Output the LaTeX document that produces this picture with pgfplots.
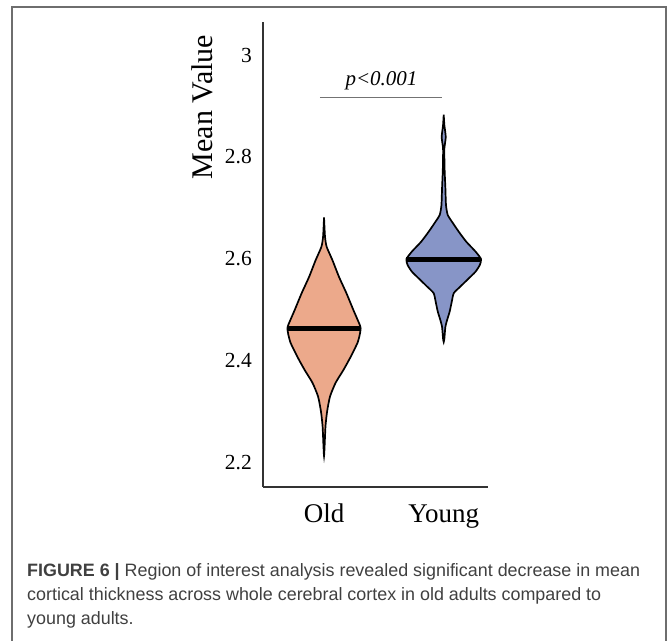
\documentclass[border=0pt]{standalone}
\usepackage{fontspec}
\setmainfont{Liberation Serif}
\newfontfamily\capfont{Liberation Sans}
\usepackage{pgfplots}
\pgfplotsset{compat=1.18}
\definecolor{oldc}{RGB}{236,169,139}
\definecolor{youngc}{RGB}{135,149,199}
\definecolor{framec}{RGB}{110,110,110}
\definecolor{capc}{RGB}{64,64,64}
\begin{document}
\begin{tikzpicture}
\useasboundingbox (0,0) rectangle (667bp,641bp);
\draw[framec, line width=1.4bp] (12bp,0) -- (12bp,634bp) -- (666bp,634bp) -- (666bp,0);
\begin{axis}[
  at={(263bp,154bp)}, anchor=south west,
  scale only axis, width=225bp, height=465bp,
  xmin=-0.51, xmax=1.37, ymin=2.151, ymax=3.065,
  axis x line*=bottom, axis y line*=left,
  axis line style={black!80, line width=1.5bp},
  xtick={0,1}, xticklabels={Old,Young},
  ytick={2.2,2.4,2.6,2.8,3},
  yticklabels={2.2,2.4,2.6,2.8,3},
  major tick length=0pt,
  yticklabel style={font=\fontsize{21.5bp}{24bp}\selectfont, inner sep=0pt, xshift=-11bp},
  xticklabel style={font=\fontsize{27bp}{30bp}\selectfont, inner sep=0pt, anchor=base, yshift=-36bp},
  clip=false,
]
% Old violin
\addplot[fill=oldc, draw=black, line width=1.7bp, smooth, tension=0.35] coordinates {
(0,2.681) (0.008,2.643) (0.022,2.623) (0.070,2.597) (0.125,2.564) (0.187,2.532) (0.245,2.499) (0.298,2.470) (0.306,2.462) (0.298,2.450) (0.279,2.434) (0.223,2.407) (0.162,2.381) (0.097,2.356) (0.050,2.329) (0.026,2.300) (0.012,2.270) (0,2.212)
(-0.012,2.270) (-0.026,2.300) (-0.050,2.329) (-0.097,2.356) (-0.162,2.381) (-0.223,2.407) (-0.279,2.434) (-0.298,2.450) (-0.306,2.462) (-0.298,2.470) (-0.245,2.499) (-0.187,2.532) (-0.125,2.564) (-0.070,2.597) (-0.022,2.623) (-0.008,2.643) (0,2.681)
};
% Young violin
\addplot[fill=youngc, draw=black, line width=1.7bp, smooth, tension=0.35] coordinates {
(1,2.883) (1.0056,2.862) (1.017,2.839) (1.0056,2.817) (1.0056,2.797) (1.008,2.771) (1.014,2.738) (1.019,2.705) (1.033,2.686) (1.070,2.672) (1.125,2.653) (1.189,2.633) (1.265,2.614) (1.312,2.599) (1.301,2.587) (1.265,2.574) (1.209,2.561) (1.139,2.545) (1.084,2.532) (1.067,2.515) (1.050,2.496) (1.028,2.479) (1.014,2.466) (1.0056,2.443) (1,2.436)
(0.9944,2.443) (0.986,2.466) (0.972,2.479) (0.950,2.496) (0.933,2.515) (0.916,2.532) (0.861,2.545) (0.791,2.561) (0.735,2.574) (0.699,2.587) (0.688,2.599) (0.735,2.614) (0.811,2.633) (0.875,2.653) (0.930,2.672) (0.967,2.686) (0.981,2.705) (0.986,2.738) (0.992,2.771) (0.9944,2.797) (0.9944,2.817) (0.983,2.839) (0.9944,2.862) (1,2.883)
};
% medians
\addplot[black, line width=5bp] coordinates {(-0.309,2.462) (0.309,2.462)};
\addplot[black, line width=5bp] coordinates {(0.687,2.599) (1.313,2.599)};
% significance bar
\addplot[black!55, line width=1.5bp] coordinates {(-0.034,2.917) (0.982,2.917)};
\node[anchor=base, font=\fontsize{21bp}{24bp}\selectfont\itshape] at (axis cs:0.48,2.941) {p<0.001};
\end{axis}
\node[rotate=90, anchor=base, font=\fontsize{30bp}{34bp}\selectfont] at (212bp,534bp) {Mean Value};
\begin{scope}[every node/.style={anchor=base west, inner sep=0pt, text=capc, font=\capfont\fontsize{17.9bp}{24bp}\selectfont}]
\node at (27bp,64bp) {\textbf{FIGURE 6 |} Region of interest analysis revealed significant decrease in mean};
\node at (27bp,40bp) {cortical thickness across whole cerebral cortex in old adults compared to};
\node at (27bp,17bp) {young adults.};
\end{scope}
\end{tikzpicture}
\end{document}
